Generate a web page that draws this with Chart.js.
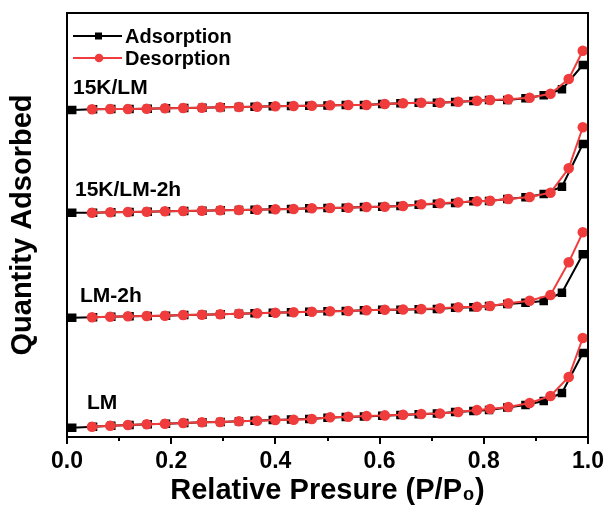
<!DOCTYPE html>
<html>
<head>
<meta charset="utf-8">
<script src="https://cdn.jsdelivr.net/npm/chart.js"></script>
<style>
  html, body { margin: 0; padding: 0; background: #fff; }
  #wrap { position: relative; width: 605px; height: 512px; }
</style>
</head>
<body>
<div id="wrap"><canvas id="chart"></canvas></div>
<script>
// relative pressure points (P/P0)
const adsX = [0.01, 0.05, 0.085, 0.12, 0.155, 0.19, 0.225, 0.26, 0.295, 0.33, 0.36, 0.395, 0.43, 0.465, 0.50,
  0.535, 0.57, 0.605, 0.64, 0.675, 0.71, 0.745, 0.78, 0.81, 0.845, 0.88, 0.915, 0.95, 0.99];
const desX = [0.99, 0.963, 0.928, 0.888, 0.847, 0.812, 0.787, 0.751, 0.716, 0.68, 0.645, 0.61, 0.575, 0.54,
  0.505, 0.47, 0.435, 0.40, 0.365, 0.33, 0.294, 0.259, 0.223, 0.188, 0.153, 0.117, 0.083, 0.048];

// quantity adsorbed (arbitrary units, curves stacked with offsets)
const samples = ['15K/LM', '15K/LM-2h', 'LM-2h', 'LM'];

const ads15K = [327, 327.7, 328, 328, 328.3, 328.7, 329, 329.3, 329.7, 330, 330.3, 330.7, 331, 331.3, 331.5,
  332, 332, 333, 333.7, 334.2, 334.3, 335, 336, 337, 337, 338.7, 341.7, 347.7, 372];
const des15K = [386.3, 358, 343.3, 339.3, 337.7, 337, 336.3, 335.3, 334.3, 334.3, 333.7, 333, 332, 332,
  331.7, 331.3, 331, 330.7, 330.3, 330, 329.7, 329.3, 329, 328.7, 328.3, 328, 328, 327.7];

const ads15K2h = [224.3, 224.3, 224.7, 225, 225.3, 225.7, 226, 226.3, 226.7, 227, 227.3, 227.7, 228, 228.7, 229,
  229.3, 230, 230.3, 231, 232.3, 233.3, 234, 235.7, 236, 238, 239.7, 243, 250.3, 293];
const des15K2h = [309.7, 268.7, 244.3, 240, 238, 236.3, 235.7, 234.7, 233.7, 232.7, 231, 230.3, 230, 229.3,
  229, 228.7, 228, 227.7, 227.3, 227, 226.7, 226.3, 226, 225.7, 225.3, 225, 224.7, 224.3];

const adsLM2h = [119.3, 119.7, 120.3, 120.7, 121, 121.3, 122, 122.3, 122.7, 123.3, 123.7, 124.3, 124.7, 125.3, 125.7,
  126, 126.7, 127.3, 127.3, 127.7, 128, 129.3, 129.7, 131, 133, 134.3, 136, 144.3, 182.7];
const desLM2h = [204.7, 174.7, 142, 136.3, 133.7, 131, 130.3, 129.7, 128.7, 127.9, 127.5, 127.3, 126.7, 126,
  125.7, 125.3, 124.7, 124.3, 123.7, 123.3, 122.7, 122.3, 122, 121.3, 121, 120.7, 120.3, 119.7];

const adsLM = [9.3, 10.3, 11.2, 12, 12.7, 13.3, 14, 14.7, 15.1, 15.7, 16.3, 17, 17.4, 18, 19.3,
  20, 20.6, 21.3, 22, 22.8, 23.4, 25, 26, 27, 29.5, 32, 36, 44, 84];
const desLM = [99, 60, 41, 34, 30, 28, 27, 25, 23.5, 23, 22.3, 21.6, 21, 20.3,
  19.7, 18, 17.3, 17, 16.3, 15.7, 15, 14.7, 14, 13.3, 12.7, 12, 11.3, 10.3];

const xTicks = [0, 0.1, 0.2, 0.3, 0.4, 0.5, 0.6, 0.7, 0.8, 0.9, 1.0];

const adsSeries = [ads15K, ads15K2h, adsLM2h, adsLM];
const desSeries = [des15K, des15K2h, desLM2h, desLM];

const BLACK = '#000000';
const RED = '#f03c3c';
const FONT = '"Liberation Sans", Arial, sans-serif';

const pts = (xs, ys) => xs.map((x, i) => ({ x, y: ys[i] }));

const datasets = [];
adsSeries.forEach((ys) => {
  datasets.push({
    label: 'Adsorption', data: pts(adsX, ys), order: 2,
    borderColor: BLACK, backgroundColor: BLACK, borderWidth: 2,
    pointStyle: 'rect', pointRadius: 4.6, pointHoverRadius: 4.6,
  });
});
desSeries.forEach((ys) => {
  datasets.push({
    label: 'Desorption', data: pts(desX, ys), order: 1,
    borderColor: RED, backgroundColor: RED, borderWidth: 2,
    pointStyle: 'circle', pointRadius: 4.3, pointHoverRadius: 4.3,
  });
});

// frame, ticks, legend and sample labels
const decor = {
  id: 'decor',
  afterDraw(chart) {
    const { ctx, chartArea: a, scales: { x } } = chart;
    ctx.save();
    ctx.strokeStyle = BLACK;
    ctx.lineWidth = 2;
    ctx.strokeRect(a.left, a.top, a.right - a.left, a.bottom - a.top);

    // bottom ticks, major every 0.2
    xTicks.forEach((v, i) => {
      const px = Math.round(x.getPixelForValue(v));
      const len = i % 2 === 0 ? 7 : 4;
      ctx.beginPath();
      ctx.moveTo(px, a.bottom);
      ctx.lineTo(px, a.bottom + len);
      ctx.stroke();
    });

    // legend
    ctx.font = 'bold 20px ' + FONT;
    ctx.textBaseline = 'middle';
    ctx.textAlign = 'left';
    const rows = [['Adsorption', BLACK, 'rect', 36], ['Desorption', RED, 'circle', 58]];
    rows.forEach(([text, col, shape, ly]) => {
      ctx.strokeStyle = col;
      ctx.fillStyle = col;
      ctx.lineWidth = 2;
      ctx.beginPath();
      ctx.moveTo(a.left + 6, ly);
      ctx.lineTo(a.left + 55, ly);
      ctx.stroke();
      if (shape === 'rect') {
        ctx.fillRect(a.left + 28, ly - 3.5, 7, 7);
      } else {
        ctx.beginPath();
        ctx.arc(a.left + 32, ly, 4.3, 0, Math.PI * 2);
        ctx.fill();
      }
      ctx.fillStyle = BLACK;
      ctx.fillText(text, a.left + 58, ly + 1);
    });

    // sample labels above each curve
    ctx.font = 'bold 21px ' + FONT;
    const labelPos = [[73, 88], [75, 190], [80, 296], [87, 403]];
    samples.forEach((s, i) => {
      ctx.fillText(s, labelPos[i][0], labelPos[i][1]);
    });
    ctx.restore();
  }
};

new Chart(document.getElementById('chart'), {
  type: 'line',
  data: { datasets },
  options: {
    responsive: true,
    maintainAspectRatio: false,
    animation: false,
    layout: { padding: { top: 13, right: 17, left: 0, bottom: 0 } },
    plugins: { legend: { display: false }, tooltip: { enabled: false } },
    scales: {
      x: {
        type: 'linear', min: 0, max: 1,
        afterFit: (s) => { s.height = 75; s.paddingRight = 0; s.paddingLeft = 0; },
        border: { display: false },
        grid: { display: false, drawTicks: false },
        afterBuildTicks: (s) => { s.ticks = xTicks.map(v => ({ value: v })); },
        ticks: {
          autoSkip: false, maxRotation: 0, padding: 11, color: BLACK,
          font: { family: FONT, size: 23, weight: 'bold' },
          callback: (v) => (Math.round(v * 10) % 2 === 0 ? v.toFixed(1) : ''),
        },
        title: {
          display: true, text: 'Relative Presure (P/P₀)', color: BLACK,
          font: { family: FONT, size: 29, weight: 'bold', lineHeight: 1.2 },
          padding: { top: 0, bottom: 4 },
        },
      },
      y: {
        type: 'linear', min: 0, max: 424,
        afterFit: (s) => { s.width = 67; },
        border: { display: false },
        grid: { display: false, drawTicks: false },
        ticks: { display: false },
        title: {
          display: true, text: 'Quantity Adsorbed', color: BLACK,
          font: { family: FONT, size: 29, weight: 'bold', lineHeight: 1.2 },
          padding: { top: 6, bottom: 0 },
        },
      },
    },
  },
  plugins: [decor],
});
</script>
</body>
</html>
